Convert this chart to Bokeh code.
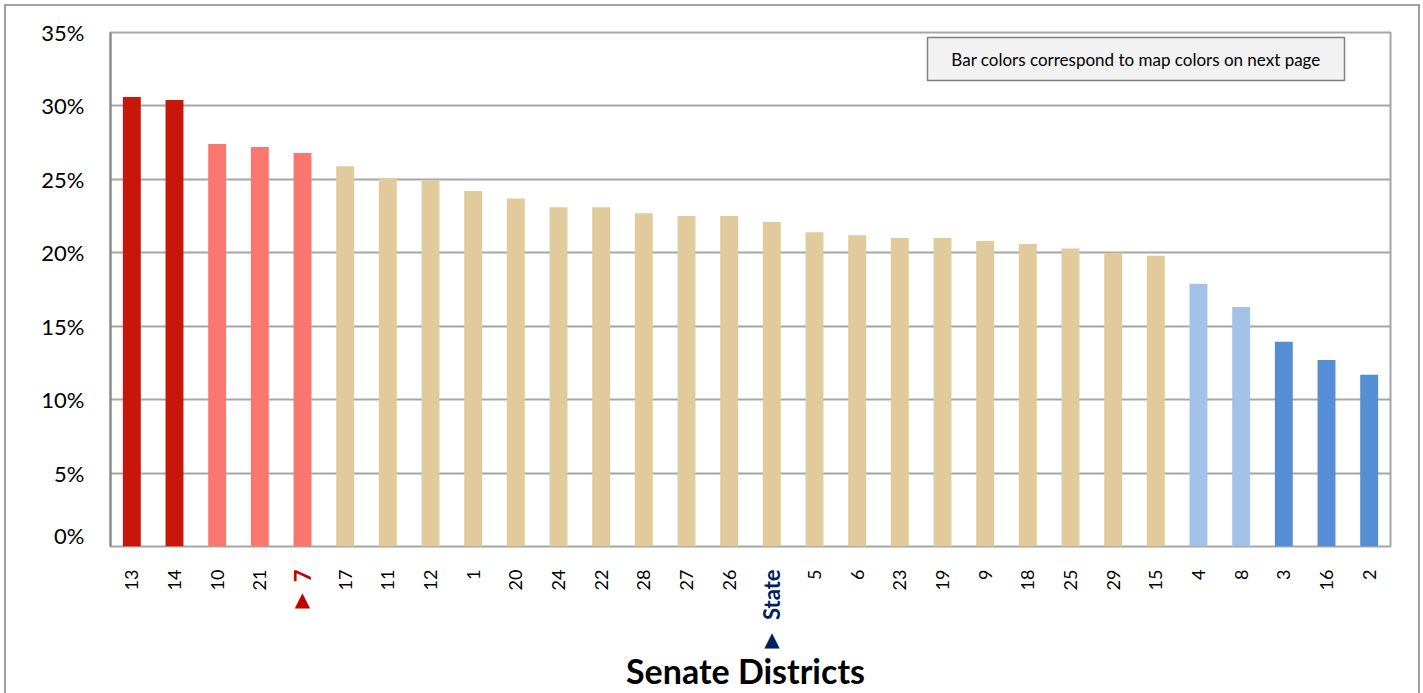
import math
from bokeh.plotting import figure
from bokeh.layouts import column
from bokeh.models import ColumnDataSource, FactorRange, FixedTicker, NumeralTickFormatter, Range1d
from bokeh.core.properties import value
from bokeh.embed import file_html
from bokeh.resources import INLINE

# ---- data ----
districts = ["13", "14", "10", "21", "7", "17", "11", "12", "1", "20", "24", "22", "28", "27", "26",
             "State", "5", "6", "23", "19", "9", "18", "25", "29", "15", "4", "8", "3", "16", "2"]
shares = [30.6, 30.4, 27.4, 27.2, 26.8, 25.9, 25.1, 24.9, 24.2, 23.7, 23.1, 23.1, 22.7, 22.5, 22.5,
          22.1, 21.4, 21.2, 21.0, 21.0, 20.8, 20.6, 20.3, 20.0, 19.8, 17.9, 16.3, 13.95, 12.7, 11.7]
tiers = [1, 1, 2, 2, 2, 3, 3, 3, 3, 3, 3, 3, 3, 3, 3,
         3, 3, 3, 3, 3, 3, 3, 3, 3, 3, 4, 4, 5, 5, 5]
highlight = {"7": "#C00000", "State": "#002060"}
y_ticks = [0, 5, 10, 15, 20, 25, 30, 35]
note_text = "Bar colors correspond to map colors on next page"
x_title = "Senate Districts"

tier_colors = {1: "#C8160A", 2: "#FB766E", 3: "#E1CB9C", 4: "#A4C2E8", 5: "#558ED5"}

FONT = "Lato"
# page geometry (pixels)
OX, OY, BW = 4, 4, 2          # outer border position / width
inner_left = OX + BW
inner_top = OY + BW
frame_left, frame_right, frame_top, frame_bottom = 110, 1390, 32, 546
fig_w = 1418 - inner_left
top_h = frame_bottom + 2 - inner_top
bot_h = 693 - (frame_bottom + 2)
px_per_unit = (frame_bottom - frame_top) / 0.35
cw = (frame_right - frame_left) / len(districts)

src = ColumnDataSource(dict(
    d=districts,
    v=[s / 100 for s in shares],
    c=[tier_colors[t] for t in tiers],
))

x_range = FactorRange(*districts)
x_range.range_padding = 0

p = figure(x_range=x_range, y_range=(0, 0.35), width=fig_w, height=top_h,
           output_backend="svg", toolbar_location=None,
           min_border_left=frame_left - inner_left, min_border_right=inner_left + fig_w - frame_right,
           min_border_top=frame_top - inner_top, min_border_bottom=2)

p.vbar(x="d", top="v", width=0.42, fill_color="c", line_color=None, source=src)

# axes
p.yaxis.ticker = FixedTicker(ticks=[t / 100 for t in y_ticks])
p.yaxis.formatter = NumeralTickFormatter(format="0%")
p.yaxis.major_label_text_font = FONT
p.yaxis.major_label_text_font_size = "22px"
p.yaxis.major_label_text_color = "#000000"
p.yaxis.major_tick_out = 0
p.yaxis.major_tick_in = 0
p.yaxis.minor_tick_out = 0
p.yaxis.minor_tick_in = 0
p.yaxis.major_label_standoff = 26
p.yaxis.axis_line_color = "#868686"
p.yaxis.axis_line_width = 2
p.xaxis.visible = False

p.xgrid.grid_line_color = None
p.ygrid.grid_line_color = "#A6A6A6"
p.ygrid.grid_line_width = 2
p.ygrid.ticker = FixedTicker(ticks=[t / 100 for t in y_ticks])

p.outline_line_color = "#A6A6A6"
p.outline_line_width = 2
p.background_fill_color = "white"
p.border_fill_color = "white"

# note box (inside the plot frame)
bl, br, bt, bb = 927, 1344, 37, 80
note_src = ColumnDataSource(dict(
    x=[((bl + br) / 2 - frame_left) / cw],
    y=[0.35 - ((bt + bb) / 2 - frame_top) / px_per_unit],
    w=[(br - bl) / cw],
    h=[(bb - bt) / px_per_unit],
    t=[note_text],
))
p.rect(x="x", y="y", width="w", height="h", source=note_src,
       fill_color="#F2F2F2", line_color="#808080", line_width=1.5)
p.text(x="x", y="y", text="t", source=note_src, text_align="center", text_baseline="middle",
       text_font=value(FONT), text_font_size="17px", text_color="#000000")

# ---- lower panel: category labels, markers, axis title ----
p2 = figure(x_range=x_range, y_range=Range1d(bot_h, 0), width=fig_w, height=bot_h,
            output_backend="svg", toolbar_location=None,
            min_border_left=frame_left - inner_left, min_border_right=inner_left + fig_w - frame_right,
            min_border_top=0, min_border_bottom=0)
p2.axis.visible = False
p2.grid.grid_line_color = None
p2.outline_line_color = None
p2.background_fill_color = "white"
p2.border_fill_color = "white"

lab_src = ColumnDataSource(dict(
    d=districts,
    col=[highlight.get(d, "#000000") for d in districts],
    sty=["bold" if d in highlight else "normal" for d in districts],
    fs=["22px" if d in highlight else "18px" for d in districts],
))
p2.text(x="d", y=21, text="d", source=lab_src, angle=math.pi / 2,
        text_align="right", text_baseline="middle",
        text_font=value(FONT), text_font_size="fs",
        text_color="col", text_font_style="sty")

tri_offsets = {"7": 50, "State": 90}
tri_src = ColumnDataSource(dict(
    d=list(tri_offsets.keys()),
    y=list(tri_offsets.values()),
    t=["▲"] * len(tri_offsets),
    col=[highlight[k] for k in tri_offsets],
))
p2.text(x="d", y="y", text="t", source=tri_src, text_align="center", text_baseline="middle",
        text_font=value("DejaVu Sans"), text_font_size="20px", text_color="col")

title_src = ColumnDataSource(dict(x=[(745 - frame_left) / cw], y=[122], t=[x_title]))
p2.text(x="x", y="y", text="t", source=title_src, text_align="center", text_baseline="middle",
        text_font=value(FONT), text_font_size="34px", text_font_style="bold",
        text_color="#000000")

layout = column(p, p2, spacing=0,
                styles={"margin": f"{OY}px 0px 0px {OX}px",
                        "border-top": f"{BW}px solid #A0A0A0",
                        "border-left": f"{BW}px solid #A0A0A0",
                        "border-right": f"{BW}px solid #A0A0A0"})

open("out.html", "w").write(file_html(layout, INLINE))
